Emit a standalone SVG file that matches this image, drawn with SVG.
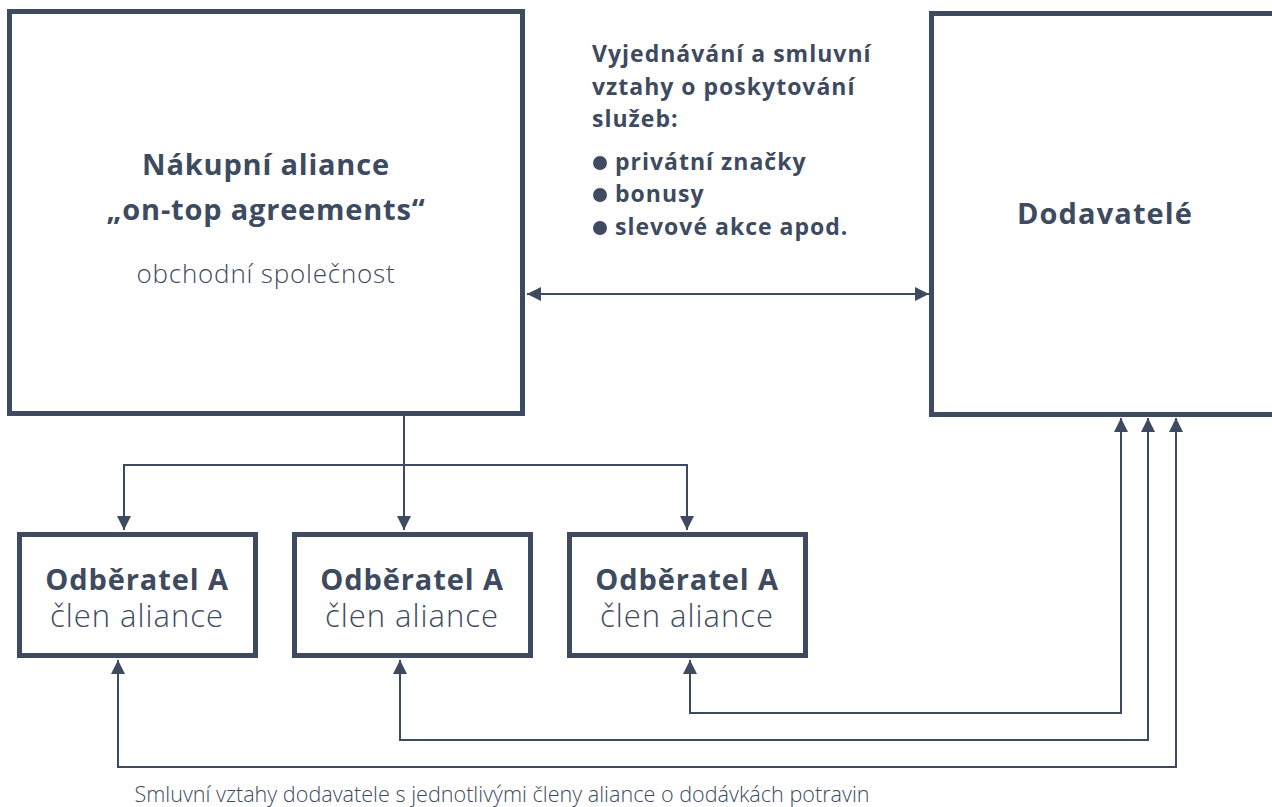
<svg xmlns="http://www.w3.org/2000/svg" width="1272" height="807" viewBox="0 0 1272 807">
<style>
.box{fill:#fff;stroke:#3e4a60;stroke-width:5}
.con{fill:none;stroke:#3e4a60;stroke-width:2}
text{font-family:"Open Sans","Noto Sans","Liberation Sans",sans-serif;fill:#3e4a60}
.b{font-weight:700}
.l{font-weight:300}
.t{font-size:29px;letter-spacing:0.8px}
.v{font-size:23px;letter-spacing:1px}
.o{font-size:29px;letter-spacing:0.9px}
.c{font-size:31px;letter-spacing:1px}
</style>
<defs>
<marker id="ah" viewBox="0 0 14 14" refX="14" refY="7" markerWidth="14" markerHeight="14" markerUnits="userSpaceOnUse" orient="auto-start-reverse">
<path d="M0,0 L14,7 L0,14 z" fill="#3e4a60"/>
</marker>
</defs>
<rect width="1272" height="807" fill="#fff"/>
<g id="aliance">
<rect class="box" x="9.5" y="11.5" width="513" height="402"/>
<text class="b t" x="266" y="175" text-anchor="middle">Nákupní aliance</text>
<text class="b t" x="266" y="220" text-anchor="middle">„on-top agreements“</text>
<text class="l" x="266" y="283" font-size="26" letter-spacing="0.8" text-anchor="middle">obchodní společnost</text>
</g>
<g id="dodavatele">
<rect class="box" x="931.5" y="13.5" width="360" height="401"/>
<text class="b" x="1105" y="224" font-size="29" letter-spacing="1.1" text-anchor="middle">Dodavatelé</text>
</g>
<g id="label-vyjednavani">
<text class="b v"><tspan x="592" y="62">Vyjednávání a smluvní</tspan><tspan x="592" y="95">vztahy o poskytování</tspan><tspan x="592" y="127">služeb:</tspan></text>
<circle cx="600" cy="163" r="7" fill="#3e4a60"/>
<circle cx="600" cy="195" r="7" fill="#3e4a60"/>
<circle cx="600" cy="228" r="7" fill="#3e4a60"/>
<text class="b v"><tspan x="615" y="170">privátní značky</tspan><tspan x="615" y="202">bonusy</tspan><tspan x="615" y="235">slevové akce apod.</tspan></text>
</g>
<g id="odberatel1">
<rect class="box" x="19.5" y="534.5" width="236" height="121"/>
<text class="b o" x="137" y="590" text-anchor="middle">Odběratel A</text>
<text class="l c" x="137" y="627" text-anchor="middle">člen aliance</text>
</g>
<g id="odberatel2">
<rect class="box" x="294.5" y="534.5" width="236" height="121"/>
<text class="b o" x="412" y="590" text-anchor="middle">Odběratel A</text>
<text class="l c" x="412" y="627" text-anchor="middle">člen aliance</text>
</g>
<g id="odberatel3">
<rect class="box" x="569.5" y="534.5" width="236" height="121"/>
<text class="b o" x="687" y="590" text-anchor="middle">Odběratel A</text>
<text class="l c" x="687" y="627" text-anchor="middle">člen aliance</text>
</g>
<g id="connectors">
<line class="con" x1="527" y1="294" x2="929" y2="294" marker-start="url(#ah)" marker-end="url(#ah)"/>
<line class="con" x1="404" y1="416" x2="404" y2="530" marker-end="url(#ah)"/>
<polyline class="con" points="124,530 124,465 687,465 687,530" marker-start="url(#ah)" marker-end="url(#ah)"/>
<polyline class="con" points="690,660 690,713 1121,713 1121,418" marker-start="url(#ah)" marker-end="url(#ah)"/>
<polyline class="con" points="400,660 400,740 1148,740 1148,418" marker-start="url(#ah)" marker-end="url(#ah)"/>
<polyline class="con" points="118,660 118,767 1176,767 1176,418" marker-start="url(#ah)" marker-end="url(#ah)"/>
</g>
<text class="l" x="502" y="802" font-size="21.6" text-anchor="middle">Smluvní vztahy dodavatele s jednotlivými členy aliance o dodávkách potravin</text>
</svg>
